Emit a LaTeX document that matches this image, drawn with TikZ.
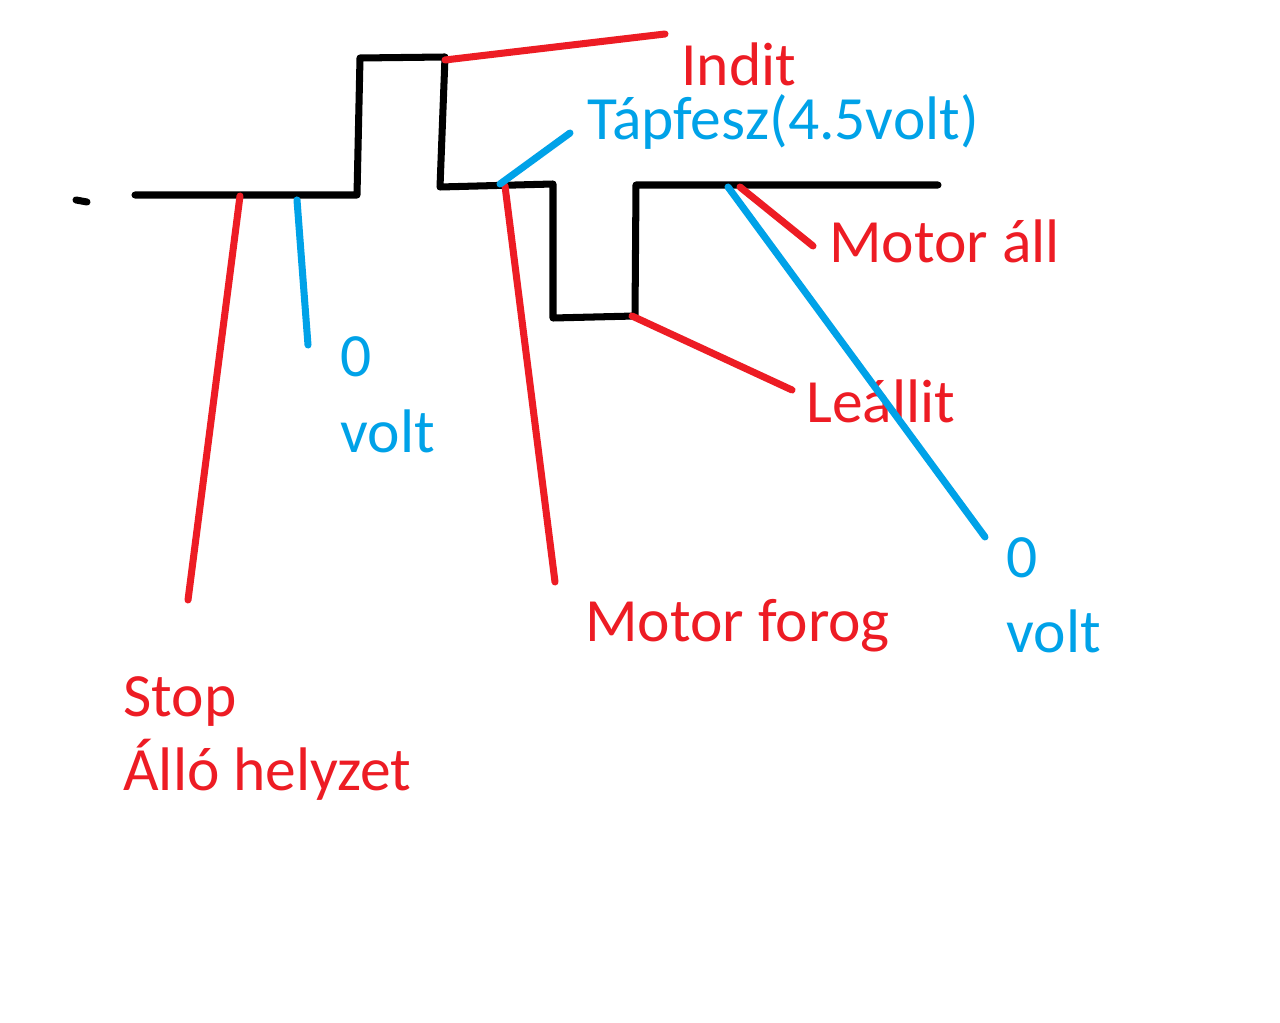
\documentclass[tikz,border=0pt]{standalone}
\usepackage{fontspec}
\setmainfont{Carlito}
\definecolor{pred}{RGB}{237,28,36}
\definecolor{pblue}{RGB}{0,162,232}
\begin{document}
\begin{tikzpicture}[x=0.02cm,y=-0.02cm,
  wave/.style={line width=4pt,black,line cap=round,line join=round},
  rline/.style={line width=4pt,pred,line cap=round},
  bline/.style={line width=4pt,pblue,line cap=round},
  rtext/.style={inner sep=0pt,anchor=base west,text=pred,font=\fontsize{35}{42}\selectfont},
  btext/.style={inner sep=0pt,anchor=base west,text=pblue,font=\fontsize{35}{42}\selectfont}]
\useasboundingbox[fill=white] (0,0) rectangle (1280,1023);
% waveform corners
\coordinate (w0) at (135,195);
\coordinate (w1) at (357,195);
\coordinate (w2) at (360,58);
\coordinate (w3) at (445,57);
\coordinate (w4) at (440,187);
\coordinate (w5) at (553,184);
\coordinate (w6) at (553,318);
\coordinate (w7) at (635,316);
\coordinate (w8) at (636,185);
\coordinate (w9) at (938,185);
\coordinate (d0) at (76,200);
\coordinate (d1) at (87,202);
\draw[wave] (d0) -- (d1);
\draw[wave] (w0) -- (w1) -- (w2) -- (w3) -- (w4) -- (w5) -- (w6) -- (w7) -- (w8) -- (w9);
% pointer points on waveform
\coordinate (pIndit) at (445,60);
\coordinate (pStop) at (240,196);
\coordinate (pForog) at (505,186);
\coordinate (pLeall) at (632,316);
\coordinate (pAll) at (740,187);
\coordinate (pZeroL) at (297,200);
\coordinate (pTap) at (500,184);
\coordinate (pZeroR) at (728,187);
% pointer free ends
\coordinate (eIndit) at (665,34);
\coordinate (eStop) at (188,600);
\coordinate (eForog) at (555,582);
\coordinate (eLeall) at (792,390);
\coordinate (eAll) at (813,246);
\coordinate (eZeroL) at (308,345);
\coordinate (eTap) at (570,133);
\coordinate (eZeroR) at (985,537);
% labels
\node[rtext] (tIndit) at (681,86) {Indit};
\node[btext] (tTap) at (587,140) {Tápfesz(4.5volt)};
\node[rtext] (tAll) at (829,263) {Motor áll};
\node[btext] (tZeroL1) at (340,377) {0};
\node[btext] (tZeroL2) at (340,452) {volt};
\node[rtext] (tLeall) at (806,422) {Leállit};
\node[rtext] (tForog) at (585,641) {Motor forog};
\node[btext] (tZeroR1) at (1006,577) {0};
\node[btext] (tZeroR2) at (1006,652) {volt};
\node[rtext] (tStop1) at (123,716) {Stop};
\node[rtext] (tStop2) at (123,790) {Álló helyzet};
% pointers
\draw[rline] (pIndit) -- (eIndit);
\draw[rline] (pStop) -- (eStop);
\draw[rline] (pForog) -- (eForog);
\draw[rline] (pLeall) -- (eLeall);
\draw[rline] (pAll) -- (eAll);
\draw[bline] (pZeroL) -- (eZeroL);
\draw[bline] (pTap) -- (eTap);
\draw[bline] (pZeroR) -- (eZeroR);
\end{tikzpicture}
\end{document}
